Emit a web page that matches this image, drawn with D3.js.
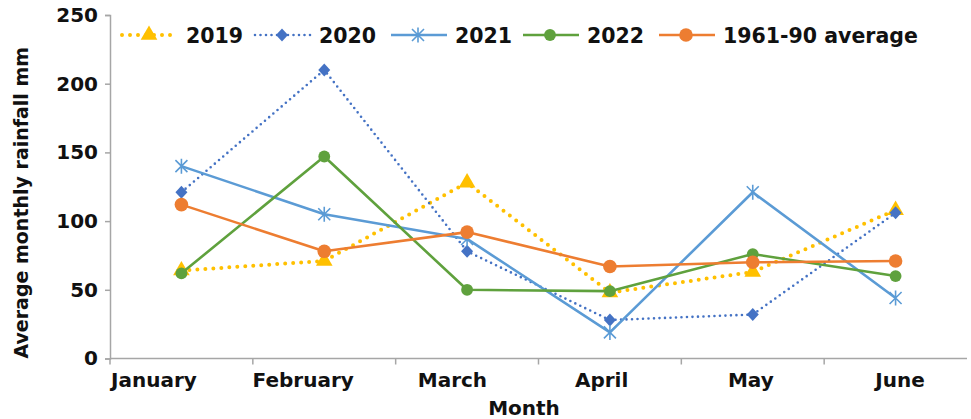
<!DOCTYPE html>
<html>
<head>
<meta charset="utf-8">
<script src="https://cdn.jsdelivr.net/npm/d3@7"></script>
<style>
  html, body { margin: 0; padding: 0; background: #fff; }
  svg { display: block; }
  text { font-family: "DejaVu Sans", sans-serif; font-weight: bold; fill: #111; }
</style>
</head>
<body>
<svg id="chart" width="971" height="419"></svg>
<script>
// Monthly rainfall (mm), January to June
const months = ["January", "February", "March", "April", "May", "June"];
const rain2019 = [64, 71, 128, 48, 63, 108];
const rain2020 = [121, 210, 78, 28, 32, 106];
const rain2021 = [140, 105, 87, 19, 121, 44];
const rain2022 = [62, 147, 50, 49, 76, 60];
const avg1961to90 = [112, 78, 92, 67, 70, 71];
const yTicks = [0, 50, 100, 150, 200, 250];
const seriesNames = ["2019", "2020", "2021", "2022", "1961-90 average"];

const svg = d3.select("#chart");
const W = 971, H = 419;
const margin = { left: 110, right: 4, top: 15, bottom: 60.5 };

const x = d3.scaleBand().domain(months).range([margin.left, W - margin.right]);
const y = d3.scaleLinear().domain([0, 250]).range([H - margin.bottom, margin.top]);
// category labels sit on their own, slightly wider spacing
const xLabel = d3.scalePoint().domain(months).range([153.5, 899.5]);

const axisColor = "#a6a6a6";

// Y axis
const yAxis = svg.append("g")
  .attr("transform", `translate(${margin.left},0)`)
  .call(d3.axisLeft(y).tickValues(yTicks).tickSize(5).tickPadding(7));
yAxis.select(".domain").attr("stroke", axisColor).attr("stroke-width", 1.5);
yAxis.selectAll(".tick line").attr("stroke", axisColor).attr("stroke-width", 1.5);
yAxis.selectAll(".tick text").attr("font-size", 20).attr("fill", "#111")
  .attr("font-family", "DejaVu Sans").attr("font-weight", "bold");

// X axis line with tick marks on band boundaries
const xAxis = svg.append("g")
  .attr("transform", `translate(0,${y(0)})`);
xAxis.append("line")
  .attr("x1", x.range()[0]).attr("x2", x.range()[1])
  .attr("y1", 0).attr("y2", 0)
  .attr("stroke", axisColor).attr("stroke-width", 1.5);
xAxis.selectAll("line.bound").data(months).enter()
  .append("line").attr("class", "bound")
  .attr("x1", d => x(d)).attr("x2", d => x(d))
  .attr("y1", 0).attr("y2", 6)
  .attr("stroke", axisColor).attr("stroke-width", 1.5);

// Category labels
const labelAxis = svg.append("g")
  .attr("transform", `translate(0,${y(0)})`)
  .call(d3.axisBottom(xLabel).tickSize(0).tickPadding(14));
labelAxis.select(".domain").remove();
labelAxis.selectAll(".tick text").attr("font-size", 20).attr("fill", "#111")
  .attr("font-family", "DejaVu Sans").attr("font-weight", "bold");

// Axis titles
svg.append("text")
  .attr("x", 524)
  .attr("y", 415)
  .attr("text-anchor", "middle")
  .attr("font-size", 20)
  .text("Month");

svg.append("text")
  .attr("transform", `translate(28,${(margin.top + y(0)) / 2 + 16}) rotate(-90)`)
  .attr("text-anchor", "middle")
  .attr("font-size", 19)
  .text("Average monthly rainfall mm");

// Marker shapes
const markerPath = {
  triangle: d3.symbol().type(d3.symbolTriangle).size(120)(),
  diamond: "M0,-6.5L6,0L0,6.5L-6,0Z",
  asterisk: "M0,-7.5L0,7.5M-6,-6L6,6M-6,6L6,-6",
  circle: d3.symbol().type(d3.symbolCircle).size(110)(),
  bigCircle: d3.symbol().type(d3.symbolCircle).size(145)()
};

const series = [
  { name: seriesNames[0], values: rain2019, color: "#ffc000", width: 4, dash: "0,8", marker: "triangle", fill: true },
  { name: seriesNames[1], values: rain2020, color: "#4472c4", width: 2.6, dash: "0,5.5", marker: "diamond", fill: true },
  { name: seriesNames[2], values: rain2021, color: "#5b9bd5", width: 2.6, dash: null, marker: "asterisk", fill: false },
  { name: seriesNames[3], values: rain2022, color: "#5fa13d", width: 2.6, dash: null, marker: "circle", fill: true },
  { name: seriesNames[4], values: avg1961to90, color: "#ed7d31", width: 2.6, dash: null, marker: "bigCircle", fill: true }
];

const line = d3.line()
  .x((d, i) => x(months[i]) + x.bandwidth() / 2)
  .y(d => y(d));

function drawMarker(g, s, tx, ty) {
  const p = g.append("path")
    .attr("d", markerPath[s.marker])
    .attr("transform", `translate(${tx},${ty})`);
  if (s.fill) {
    p.attr("fill", s.color).attr("stroke", "none");
  } else {
    p.attr("fill", "none").attr("stroke", s.color).attr("stroke-width", 1.6);
  }
  return p;
}

const plot = svg.append("g");
series.forEach(s => {
  const g = plot.append("g");
  g.append("path")
    .datum(s.values)
    .attr("d", line)
    .attr("fill", "none")
    .attr("stroke", s.color)
    .attr("stroke-width", s.width)
    .attr("stroke-linecap", s.dash ? "round" : "butt")
    .attr("stroke-linejoin", "round")
    .attr("stroke-dasharray", s.dash);
  s.values.forEach((v, i) => {
    drawMarker(g, s, x(months[i]) + x.bandwidth() / 2, y(v));
  });
});

// Legend
const legendX = [122, 255, 391, 523, 659];
const legendY = 35;
const legend = svg.append("g");
series.forEach((s, i) => {
  const g = legend.append("g");
  const x0 = legendX[i];
  g.append("line")
    .attr("x1", x0).attr("x2", x0 + 56)
    .attr("y1", legendY).attr("y2", legendY)
    .attr("stroke", s.color)
    .attr("stroke-width", s.width)
    .attr("stroke-linecap", s.dash ? "round" : "butt")
    .attr("stroke-dasharray", s.dash);
  drawMarker(g, s, x0 + 27, legendY);
  g.append("text")
    .attr("x", x0 + 64)
    .attr("y", legendY + 8)
    .attr("font-size", 20.5)
    .text(s.name);
});
</script>
</body>
</html>
